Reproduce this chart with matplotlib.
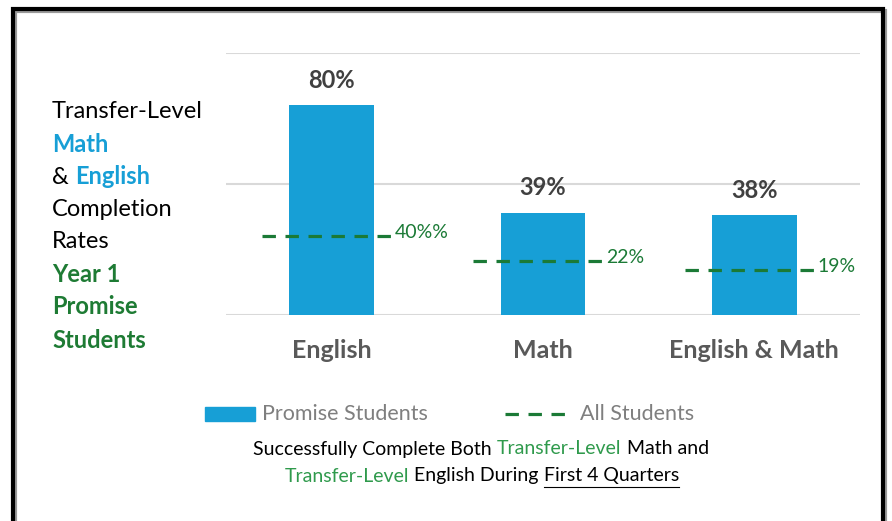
"""Promise students transfer-level completion rates: bars with all-students dashes."""

import matplotlib
matplotlib.use('Agg')
import matplotlib.pyplot as plt
from matplotlib.patches import Rectangle

categories = ['English', 'Math', 'English & Math']
promise = [80, 39, 38]
promise_labels = ['80%', '39%', '38%']
# level where the dashed "All Students" marks sit on the chart, and their labels
all_students = [30, 20.5, 17]
all_labels = ['40%%', '22%', '19%']

BLUE = '#179fd6'
DASH_GREEN = '#1b7a36'
TEXT_GREEN = '#1e7b34'
CAP_GREEN = '#2f9a4c'
FONT = ['Lato', 'DejaVu Sans']

plt.rcParams['font.family'] = FONT

W, H = 892, 521
fig = plt.figure(figsize=(W / 100, H / 100), dpi=100)


def fx(px):
    return px / W


def fy(py):
    return 1 - py / H


# outer frame with a soft shadow
fig.patches.append(Rectangle((fx(15), fy(540)), fx(870), (540 - 11) / H,
                             transform=fig.transFigure, fill=False,
                             edgecolor='#9a9a9a', lw=3, zorder=0))
fig.patches.append(Rectangle((fx(13), fy(540)), fx(870), (540 - 9) / H,
                             transform=fig.transFigure, fill=False,
                             edgecolor='black', lw=3, zorder=1))

ax = fig.add_axes([fx(226), fy(315), fx(860) - fx(226), (315 - 53) / H])
x = range(len(categories))
ax.bar(x, promise, width=0.4, color=BLUE, zorder=2)
ax.set_xlim(-0.5, 2.5)
ax.set_ylim(0, 100)
ax.set_yticks([0, 50, 100])
ax.yaxis.grid(True, color='#d9d9d9', lw=1.5, zorder=0)
ax.set_yticklabels([])
ax.tick_params(length=0)
for s in ax.spines.values():
    s.set_visible(False)
ax.set_xticks(list(x))
ax.set_xticklabels(categories, fontsize=18, fontweight='bold', color='#595959')
ax.tick_params(axis='x', pad=17)

for i, (v, lab) in enumerate(zip(promise, promise_labels)):
    ax.annotate(lab, (i, v), xytext=(0, 18), textcoords='offset points',
                ha='center', va='center', fontsize=17, fontweight='bold',
                color='#404040')

for i, (v, lab) in enumerate(zip(all_students, all_labels)):
    ax.plot([i - 0.33, i + 0.28], [v, v], color=DASH_GREEN, lw=2.3,
            ls=(0, (4.2, 3.0)), zorder=3)
    ax.annotate(lab, (i + 0.28, v), xytext=(3, 3), textcoords='offset points',
                ha='left', va='center', fontsize=14, color=DASH_GREEN)

# left-hand title block
title_lines = [
    [('Transfer-Level', 'black', 'normal')],
    [('Math', BLUE, 'bold')],
    [('& ', 'black', 'normal'), ('English', BLUE, 'bold')],
    [('Completion', 'black', 'normal')],
    [('Rates', 'black', 'normal')],
    [('Year 1', TEXT_GREEN, 'bold')],
    [('Promise', TEXT_GREEN, 'bold')],
    [('Students', TEXT_GREEN, 'bold')],
]
title_y = [112, 145, 177, 209, 241, 274, 307, 340]

fig.canvas.draw()
renderer = fig.canvas.get_renderer()


def draw_runs(x0, y, runs, size, center=False):
    """Write coloured text pieces one after another on one line."""
    texts = []
    cur = x0
    for s, c, w in runs:
        t = fig.text(fx(cur), fy(y), s, color=c, fontweight=w, fontsize=size,
                     ha='left', va='center')
        bb = t.get_window_extent(renderer)
        texts.append((t, cur, bb.width))
        cur += bb.width
    if center:
        shift = -(cur - x0) / 2
        for t, start, _ in texts:
            t.set_x(fx(start + shift))
        texts = [(t, start + shift, w) for t, start, w in texts]
    return texts


for runs, y in zip(title_lines, title_y):
    draw_runs(52, y, runs, 17)

# legend
fig.patches.append(Rectangle((fx(205), fy(421)), fx(50), 14 / H,
                             transform=fig.transFigure, color=BLUE))
fig.text(fx(262), fy(414), 'Promise Students', fontsize=15.5, color='#7f7f7f',
         ha='left', va='center')
fig.lines.append(plt.Line2D([fx(505), fx(566)], [fy(414), fy(414)],
                            transform=fig.transFigure, color=DASH_GREEN,
                            lw=2.3, ls=(0, (4.2, 3.0))))
fig.text(fx(580), fy(414), 'All Students', fontsize=15.5, color='#7f7f7f',
         ha='left', va='center')

# caption
draw_runs(481, 449, [('Successfully Complete Both ', 'black', 'normal'),
                     ('Transfer-Level', CAP_GREEN, 'normal'),
                     (' Math and', 'black', 'normal')], 14, center=True)
cap2 = draw_runs(482, 476, [('Transfer-Level', CAP_GREEN, 'normal'),
                            (' English During ', 'black', 'normal'),
                            ('First 4 Quarters', 'black', 'normal')], 14,
                 center=True)
t, start, w = cap2[-1]
fig.lines.append(plt.Line2D([fx(start), fx(start + w)], [fy(487), fy(487)],
                            transform=fig.transFigure, color='black', lw=0.8))

fig.savefig('out.png', dpi=100)
